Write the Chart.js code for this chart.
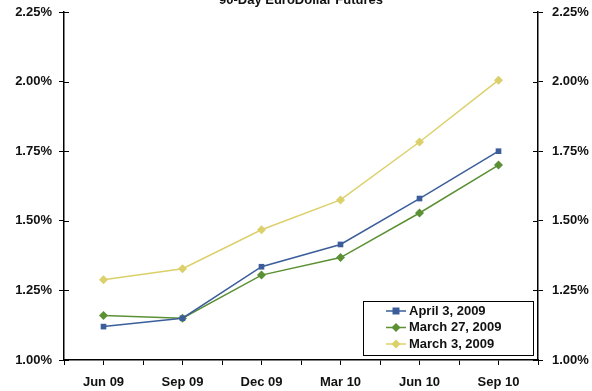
<html>
<head>
	<title>90-Day EuroDollar Futures</title>
	<script src="https://cdn.jsdelivr.net/npm/chart.js"></script>
	<style>
		body { margin: 0; background: #fff; }
		#wrap { position: relative; width: 592px; height: 391px; }
	</style>
</head>
<body>
	<div id="wrap">
		<canvas id="futures"></canvas>
	</div>
<script>
	const labels = ['Jun 09', 'Sep 09', 'Dec 09', 'Mar 10', 'Jun 10', 'Sep 10'];

	const april3 = [1.12, 1.15, 1.335, 1.415, 1.58, 1.75];
	const march27 = [1.16, 1.15, 1.305, 1.368, 1.528, 1.70];
	const march3 = [1.288, 1.328, 1.468, 1.575, 1.783, 2.005];

	const seriesNames = ['April 3, 2009', 'March 27, 2009', 'March 3, 2009'];
	const colors = ['#3b5e9b', '#5b9034', '#dcd06a'];
	const chartTitle = '90-Day EuroDollar Futures';

	const yMin = 1.00;
	const yMax = 2.25;
	const yStep = 0.25;

	const font = { family: "'Liberation Sans', Arial, sans-serif", size: 13, weight: 'bold' };

	const toPoints = (arr) => arr.map((v, i) => ({ x: i, y: v }));

	// title sits half cut off at the very top, like the original
	const topTitle = {
		id: 'topTitle',
		afterDraw(chart) {
			const ctx = chart.ctx;
			const area = chart.chartArea;
			ctx.save();
			ctx.font = "bold 13px 'Liberation Sans', Arial, sans-serif";
			ctx.fillStyle = '#111';
			ctx.textAlign = 'center';
			ctx.textBaseline = 'middle';
			ctx.fillText(chartTitle, (area.left + area.right) / 2, 0);
			ctx.restore();
		}
	};

	// y ticks cross the axis line: add the inner half
	const innerTicks = {
		id: 'innerTicks',
		afterDraw(chart) {
			const ctx = chart.ctx;
			ctx.save();
			ctx.strokeStyle = '#000';
			ctx.lineWidth = 1;
			['y', 'y2'].forEach((id) => {
				const s = chart.scales[id];
				const x = id === 'y' ? chart.chartArea.left : chart.chartArea.right;
				const dir = id === 'y' ? 1 : -1;
				s.ticks.forEach((t) => {
					const y = Math.round(s.getPixelForValue(t.value)) + 0.5;
					ctx.beginPath();
					ctx.moveTo(x, y);
					ctx.lineTo(x + dir * 5, y);
					ctx.stroke();
				});
			});
			ctx.restore();
		}
	};

	// legend drawn inside the plot area, bottom right
	const boxLegend = {
		id: 'boxLegend',
		afterDraw(chart) {
			const ctx = chart.ctx;
			const area = chart.chartArea;
			const w = 170, h = 54;
			const left = area.right - 5 - w;
			const top = area.bottom - 5 - h;
			ctx.save();
			ctx.fillStyle = '#fff';
			ctx.fillRect(left, top, w, h);
			ctx.strokeStyle = '#000';
			ctx.lineWidth = 1;
			ctx.strokeRect(Math.round(left) + 0.5, Math.round(top) + 0.5, w, h);
			ctx.font = "bold 13px 'Liberation Sans', Arial, sans-serif";
			ctx.textBaseline = 'middle';
			chart.data.datasets.forEach((ds, i) => {
				const y = top + 10 + i * 16.5;
				const x0 = left + 23, x1 = left + 43, xm = (x0 + x1) / 2;
				ctx.strokeStyle = ds.borderColor;
				ctx.lineWidth = 1.5;
				ctx.beginPath();
				ctx.moveTo(x0, y);
				ctx.lineTo(x1, y);
				ctx.stroke();
				ctx.fillStyle = ds.borderColor;
				ctx.beginPath();
				if (ds.pointStyle === 'rect') {
					ctx.rect(xm - 3.5, y - 3.5, 7, 7);
				} else {
					ctx.moveTo(xm, y - 4.5);
					ctx.lineTo(xm + 4.5, y);
					ctx.lineTo(xm, y + 4.5);
					ctx.lineTo(xm - 4.5, y);
					ctx.closePath();
				}
				ctx.fill();
				ctx.fillStyle = '#111';
				ctx.fillText(ds.label, left + 46, y);
			});
			ctx.restore();
		}
	};

	const yTicks = (v) => v.toFixed(2) + '%';

	const data = {
		datasets: [
			{ label: seriesNames[0], data: toPoints(april3), borderColor: colors[0], backgroundColor: colors[0], pointStyle: 'rect', pointRadius: 4 },
			{ label: seriesNames[1], data: toPoints(march27), borderColor: colors[1], backgroundColor: colors[1], pointStyle: 'rectRot', pointRadius: 4.5 },
			{ label: seriesNames[2], data: toPoints(march3), borderColor: colors[2], backgroundColor: colors[2], pointStyle: 'rectRot', pointRadius: 4.5 }
		]
	};

	const fitY = (width) => (s) => {
		s.width = width;
		s.paddingTop = 0;
		s.paddingBottom = 0;
	};

	const config = {
		type: 'line',
		data: data,
		options: {
			responsive: false,
			animation: false,
			devicePixelRatio: 1,
			elements: {
				line: { borderWidth: 1.5, tension: 0 },
				point: { borderWidth: 0 }
			},
			layout: { padding: { top: 12 } },
			plugins: {
				legend: { display: false },
				tooltip: { enabled: false },
				title: { display: false }
			},
			scales: {
				x: {
					type: 'linear',
					min: -0.5,
					max: 5.5,
					border: { color: '#000', width: 1.5 },
					grid: { drawOnChartArea: false, color: '#000', tickLength: 5, lineWidth: 1 },
					ticks: {
						stepSize: 0.5,
						autoSkip: false,
						maxRotation: 0,
						color: '#111',
						font: font,
						padding: 10,
						callback: (v) => Number.isInteger(v) ? labels[v] : ''
					},
					afterFit: (s) => { s.height = 31; }
				},
				y: {
					position: 'left',
					min: yMin,
					max: yMax,
					border: { color: '#000', width: 1.5 },
					grid: { drawOnChartArea: false, color: '#000', tickLength: 5 },
					ticks: { stepSize: yStep, color: '#111', font: font, padding: 7, callback: yTicks },
					afterFit: fitY(64)
				},
				y2: {
					position: 'right',
					min: yMin,
					max: yMax,
					border: { color: '#000', width: 1.5 },
					grid: { drawOnChartArea: false, color: '#000', tickLength: 5 },
					ticks: { stepSize: yStep, color: '#111', font: font, padding: 9, callback: yTicks },
					afterFit: fitY(54)
				}
			}
		},
		plugins: [topTitle, innerTicks, boxLegend]
	};

	const canvas = document.getElementById('futures');
	canvas.width = 592;
	canvas.height = 391;
	const futures = new Chart(canvas, config);
</script>
</body>
</html>
